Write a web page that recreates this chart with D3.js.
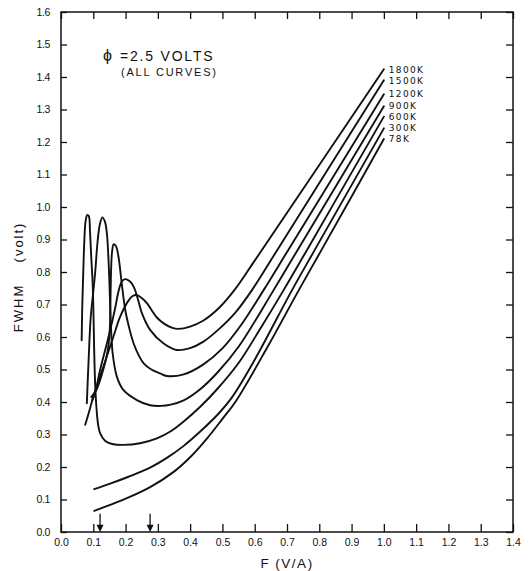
<!DOCTYPE html>
<html>
<head>
<meta charset="utf-8">
<script src="https://cdn.jsdelivr.net/npm/d3@7"></script>
<style>
  body { margin: 0; background: #fff; }
  svg { display: block; }
  text { font-family: "Liberation Sans", Arial, sans-serif; fill: #111; }
</style>
</head>
<body>
<div id="chart"></div>
<script>
// curve labels, top to bottom
const temps = ['1800K', '1500K', '1200K', '900K', '600K', '300K', '78K'];

// [F (V/A), FWHM (volt)]
const c1800 = [[0.075, 0.33], [0.087, 0.37], [0.10, 0.416], [0.131, 0.508], [0.162, 0.60], [0.183, 0.662],
  [0.209, 0.712], [0.222, 0.726], [0.235, 0.729], [0.25, 0.72], [0.266, 0.704], [0.297, 0.66], [0.318, 0.642],
  [0.345, 0.628], [0.364, 0.625], [0.40, 0.632], [0.44, 0.65], [0.49, 0.69], [0.54, 0.748], [0.60, 0.835],
  [1.0, 1.424]];
const c1500 = [[0.097, 0.405], [0.106, 0.43], [0.121, 0.498], [0.142, 0.58], [0.158, 0.645], [0.168, 0.69],
  [0.178, 0.74], [0.188, 0.77], [0.199, 0.778], [0.212, 0.772], [0.225, 0.755], [0.24, 0.71], [0.25, 0.675],
  [0.276, 0.622], [0.318, 0.58], [0.359, 0.56], [0.40, 0.566], [0.44, 0.585], [0.49, 0.625], [0.54, 0.675],
  [0.592, 0.745], [0.67, 0.868], [1.0, 1.39]];
const c1200 = [[0.094, 0.415], [0.111, 0.44], [0.131, 0.50], [0.145, 0.56], [0.151, 0.62], [0.153, 0.70],
  [0.155, 0.80], [0.158, 0.86], [0.163, 0.885], [0.170, 0.88], [0.178, 0.847], [0.188, 0.766], [0.199, 0.683],
  [0.212, 0.625], [0.225, 0.58], [0.24, 0.545], [0.256, 0.519], [0.28, 0.50], [0.307, 0.488], [0.328, 0.48],
  [0.38, 0.485], [0.44, 0.515], [0.50, 0.565], [0.56, 0.64], [0.628, 0.745], [0.704, 0.868], [1.0, 1.347]];
const c900 = [[0.08, 0.396], [0.086, 0.54], [0.092, 0.66], [0.10, 0.74], [0.106, 0.80], [0.113, 0.89],
  [0.12, 0.945], [0.128, 0.968], [0.136, 0.955], [0.142, 0.92], [0.147, 0.84], [0.15, 0.766], [0.154, 0.652],
  [0.16, 0.55], [0.173, 0.478], [0.193, 0.437], [0.235, 0.406], [0.276, 0.39], [0.31, 0.388], [0.34, 0.392],
  [0.38, 0.405], [0.432, 0.44], [0.484, 0.49], [0.55, 0.57], [0.659, 0.745], [0.733, 0.868], [1.0, 1.31]];
const c600 = [[0.064, 0.59], [0.066, 0.70], [0.069, 0.80], [0.072, 0.89], [0.076, 0.955], [0.081, 0.975],
  [0.086, 0.972], [0.09, 0.92], [0.094, 0.84], [0.098, 0.766], [0.101, 0.652], [0.103, 0.55], [0.106, 0.45],
  [0.110, 0.38], [0.115, 0.33], [0.121, 0.304], [0.137, 0.28], [0.162, 0.27], [0.193, 0.268], [0.245, 0.273],
  [0.297, 0.288], [0.34, 0.31], [0.38, 0.34], [0.432, 0.386], [0.484, 0.44], [0.55, 0.52], [0.62, 0.63],
  [0.69, 0.745], [0.762, 0.868], [1.0, 1.278]];
const c300 = [[0.103, 0.132], [0.15, 0.148], [0.209, 0.17], [0.276, 0.198], [0.328, 0.228], [0.38, 0.265],
  [0.432, 0.31], [0.484, 0.36], [0.53, 0.415], [0.60, 0.53], [0.716, 0.745], [0.786, 0.868], [1.0, 1.242]];
const c78 = [[0.103, 0.065], [0.15, 0.083], [0.204, 0.104], [0.276, 0.138], [0.349, 0.185], [0.40, 0.23],
  [0.45, 0.285], [0.50, 0.348], [0.54, 0.40], [0.64, 0.57], [0.737, 0.745], [0.807, 0.868], [1.0, 1.209]];
const curves = [c1800, c1500, c1200, c900, c600, c300, c78];

// label positions (FWHM) beside the curve ends
const labelY = [1.422, 1.388, 1.348, 1.311, 1.277, 1.243, 1.209];

// arrows on the F axis
const arrowsF = [0.121, 0.276];

const xTicks = d3.range(0, 15).map(i => i / 10);
const yTicks = d3.range(0, 17).map(i => i / 10);

const width = 531, height = 571;
const margin = { top: 12, right: 18, bottom: 39, left: 61 };

const svg = d3.select('#chart').append('svg')
  .attr('width', width)
  .attr('height', height);

const x = d3.scaleLinear().domain([0, 1.4]).range([margin.left, width - margin.right]);
const y = d3.scaleLinear().domain([0, 1.6]).range([height - margin.bottom, margin.top]);

// axes, ticks pointing inward
const fmt = d3.format('.1f');
const bottom = svg.append('g')
  .attr('transform', `translate(0,${y(0)})`)
  .call(d3.axisBottom(x).tickValues(xTicks).tickFormat(fmt).tickSize(-8).tickPadding(7));
const left = svg.append('g')
  .attr('transform', `translate(${x(0)},0)`)
  .call(d3.axisLeft(y).tickValues(yTicks).tickFormat(fmt).tickSize(-6).tickPadding(11));
svg.append('g')
  .attr('transform', `translate(0,${y(1.6)})`)
  .call(d3.axisTop(x).tickValues(xTicks).tickFormat('').tickSize(-7));
svg.append('g')
  .attr('transform', `translate(${x(1.4)},0)`)
  .call(d3.axisRight(y).tickValues(yTicks).tickFormat('').tickSize(-7));

svg.selectAll('.domain').remove();
svg.selectAll('.tick line').attr('stroke', '#111').attr('stroke-width', 1.3);
svg.selectAll('.tick text').attr('font-size', 10.5).attr('fill', '#111')
  .style('font-family', '"Liberation Sans", Arial, sans-serif');
left.selectAll('.tick text').attr('letter-spacing', -0.4);

svg.append('rect')
  .attr('x', x(0)).attr('y', y(1.6))
  .attr('width', x(1.4) - x(0)).attr('height', y(0) - y(1.6))
  .attr('fill', 'none').attr('stroke', '#111').attr('stroke-width', 1.5);

// curves
const line = d3.line()
  .x(d => x(d[0]))
  .y(d => y(d[1]))
  .curve(d3.curveCatmullRom.alpha(0.5));

svg.append('g').selectAll('path')
  .data(curves)
  .join('path')
  .attr('d', line)
  .attr('fill', 'none')
  .attr('stroke', '#111')
  .attr('stroke-width', 1.9)
  .attr('stroke-linejoin', 'round')
  .attr('stroke-linecap', 'round');

// temperature labels
svg.append('g').selectAll('text')
  .data(temps)
  .join('text')
  .attr('x', x(1.0) + 5)
  .attr('y', (d, i) => y(labelY[i]))
  .attr('dy', '0.36em')
  .attr('font-size', 9)
  .attr('letter-spacing', 1.3)
  .style('font-family', '"DejaVu Sans", sans-serif')
  .text(d => d);

// annotation
const phi = svg.append('text')
  .attr('x', 103).attr('y', 61)
  .attr('font-size', 14)
  .attr('letter-spacing', 1.8);
phi.append('tspan').attr('font-size', 16).text('ϕ ');
phi.append('tspan').text('=2.5 VOLTS');
svg.append('text')
  .attr('x', 121).attr('y', 76)
  .attr('font-size', 11)
  .attr('letter-spacing', 1.8)
  .text('(ALL CURVES)');

// arrows
const arrows = svg.append('g');
arrowsF.forEach(f => {
  const ax = x(f);
  arrows.append('line')
    .attr('x1', ax).attr('x2', ax)
    .attr('y1', y(0.056)).attr('y2', y(0.01))
    .attr('stroke', '#111').attr('stroke-width', 1.3);
  arrows.append('path')
    .attr('d', `M${ax - 3.5},${y(0.022)} L${ax + 3.5},${y(0.022)} L${ax},${y(0.0)} Z`)
    .attr('fill', '#111');
});

// axis titles
svg.append('text')
  .attr('x', 287).attr('y', 568)
  .attr('text-anchor', 'middle')
  .attr('font-size', 13.5)
  .attr('letter-spacing', 1.5)
  .text('F (V/A)');

svg.append('text')
  .attr('transform', 'translate(23,308) rotate(-90)')
  .attr('text-anchor', 'middle')
  .attr('font-size', 13)
  .attr('letter-spacing', 2)
  .text('FWHM');
svg.append('text')
  .attr('transform', 'translate(23,242) rotate(-90)')
  .attr('text-anchor', 'middle')
  .attr('font-size', 13)
  .attr('letter-spacing', 2)
  .text('(volt)');
</script>
</body>
</html>
